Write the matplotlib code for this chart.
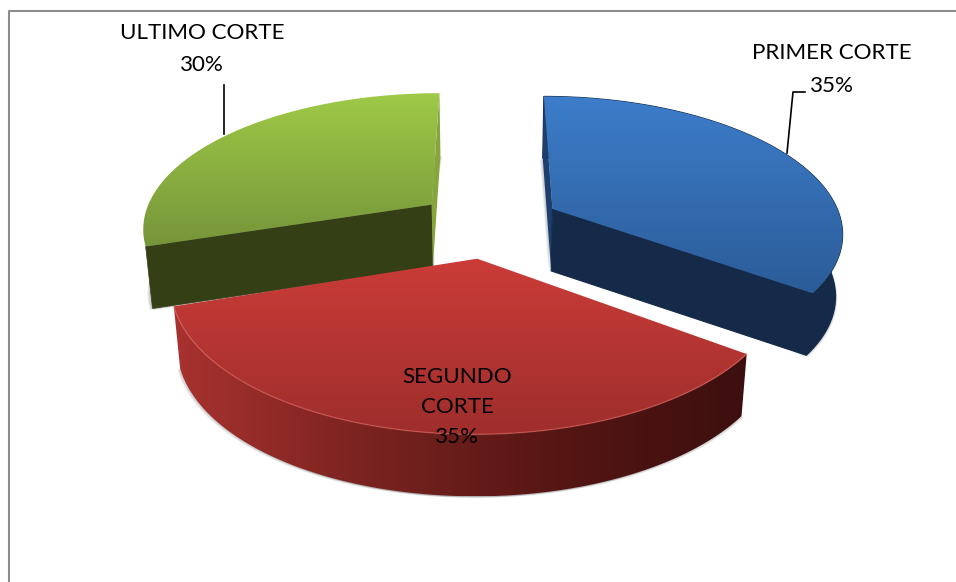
import numpy as np
import matplotlib
matplotlib.use('Agg')
import matplotlib.pyplot as plt
from matplotlib.colors import LinearSegmentedColormap
from matplotlib.patches import Polygon

labels = ['PRIMER CORTE', 'SEGUNDO\nCORTE', 'ULTIMO CORTE']
values = [35, 35, 30]

top_colors = [('#3d7dca', '#2b5c98'), ('#cb3c38', '#9e2e2c'), ('#9fca47', '#76953a')]
wall_colors = [('#142a48', '#142a48'), ('#a8322f', '#7a2320', '#561614', '#3c0f0e'), ('#343f15', '#343f15')]
sliver_colors = ['#1d3f6e', '#7a2320', '#86a63c']

# projection of the pie plane to pixels
CX, CY = 489, 224
RX, RY = 290, 135
K = 0.16
EXPLODE = 0.25
DEPTH = 62
BOTTOM_SCALE = 0.98  # lower face sits further away


def project(x, y):
    w = 1 - K * y
    return CX + RX * x / w, CY + RY * y / w


def lower(pts):
    pts = np.array(pts, dtype=float)
    return np.column_stack([CX + (pts[:, 0] - CX) * BOTTOM_SCALE, pts[:, 1] + DEPTH])


def poly_grad(ax, pts, colors, horizontal=False, zorder=2):
    # gradient image clipped to a polygon
    pts = np.array(pts)
    cmap = LinearSegmentedColormap.from_list('g', list(colors))
    g = np.linspace(0, 1, 256)
    g = g.reshape(1, -1) if horizontal else g.reshape(-1, 1)
    x0, x1 = pts[:, 0].min(), pts[:, 0].max()
    y0, y1 = pts[:, 1].min(), pts[:, 1].max()
    im = ax.imshow(g, cmap=cmap, extent=(x0, x1, y1, y0), aspect='auto', zorder=zorder)
    p = Polygon(pts, closed=True, transform=ax.transData, fc='none', ec='none')
    ax.add_patch(p)
    im.set_clip_path(p)


fig = plt.figure(figsize=(9.56, 5.82), dpi=100)
ax = fig.add_axes([0, 0, 1, 1])
ax.set_axis_off()

# start at 12 o'clock, clockwise; y of the plane points at the viewer
edges = 90 - np.cumsum([0] + values) * 3.6
bisect = np.radians((edges[:-1] + edges[1:]) / 2)

# back slices first, red one last
for z, i in enumerate([0, 2, 1]):
    base = 2 + z * 2
    a0, a1 = np.radians(edges[i]), np.radians(edges[i + 1])
    t = np.linspace(a0, a1, 120)
    ex, ey = EXPLODE * np.cos(bisect[i]), -EXPLODE * np.sin(bisect[i])
    apex = np.array(project(ex, ey))
    arc = np.column_stack(project(ex + np.cos(t), ey - np.sin(t)))
    low_arc = lower(arc)
    low_apex = lower([apex])[0]
    outer = np.vstack([arc, low_arc[::-1]])

    # soft shadow
    for s, a in [(4, 0.07), (3, 0.09), (2, 0.12)]:
        sh = np.vstack([low_apex, low_arc, apex])
        ax.add_patch(Polygon(sh + [s * 0.5, s * 0.4], fc='#555555', ec='none', alpha=a, zorder=base))
        ax.add_patch(Polygon(sh + [-s * 0.7, s * 0.4], fc='#555555', ec='none', alpha=a, zorder=base))

    side_a = [apex, arc[0], low_arc[0], low_apex]
    side_b = [apex, arc[-1], low_arc[-1], low_apex]
    wall = wall_colors[i][0]
    if i == 0:
        # flat navy walls, edge in same colour hides the seam
        ax.add_patch(Polygon(outer, fc=wall, ec=wall, lw=0.8, zorder=base + 0.1))
        ax.add_patch(Polygon(side_a, fc=sliver_colors[i], ec='none', zorder=base + 0.2))
        ax.add_patch(Polygon(side_b, fc=wall, ec=wall, lw=0.8, zorder=base + 0.3))
    elif i == 1:
        poly_grad(ax, outer, wall_colors[i], horizontal=True, zorder=base + 0.1)
    else:
        ax.add_patch(Polygon(side_a, fc=wall, ec=wall, lw=0.5, zorder=base + 0.3))
        ax.add_patch(Polygon(side_b, fc=sliver_colors[i], ec='none', zorder=base + 0.4))
    top = np.vstack([apex, arc])
    poly_grad(ax, top, top_colors[i], zorder=base + 0.5)
    if i == 1:
        ax.plot(arc[:, 0], arc[:, 1], color='#d9605a', lw=1, alpha=0.6, zorder=base + 0.6)

# chart area border
ax.plot([9.5, 9.5, 956], [582, 10.5, 10.5], color='#8c8c8c', lw=1.5, zorder=1)

# leader lines
ax.plot([224.5, 224.5], [85, 134], color='black', lw=1.2, zorder=10)
ax.plot([787, 793, 805], [153, 92, 92], color='black', lw=1.2, zorder=10)

font = dict(family='Lato', fontsize=16.1, color='black', ha='center', va='center', zorder=11)
pct = ['%d%%' % v for v in values]
ax.text(832, 53, labels[0], **font)
ax.text(832, 86, pct[0], **font)
ax.text(457, 407, labels[1] + '\n' + pct[1], linespacing=1.62, **font)
ax.text(202, 33, labels[2], **font)
ax.text(202, 65, pct[2], **font)

ax.set_xlim(0, 956)
ax.set_ylim(582, 0)
fig.savefig('out.png', dpi=100)
